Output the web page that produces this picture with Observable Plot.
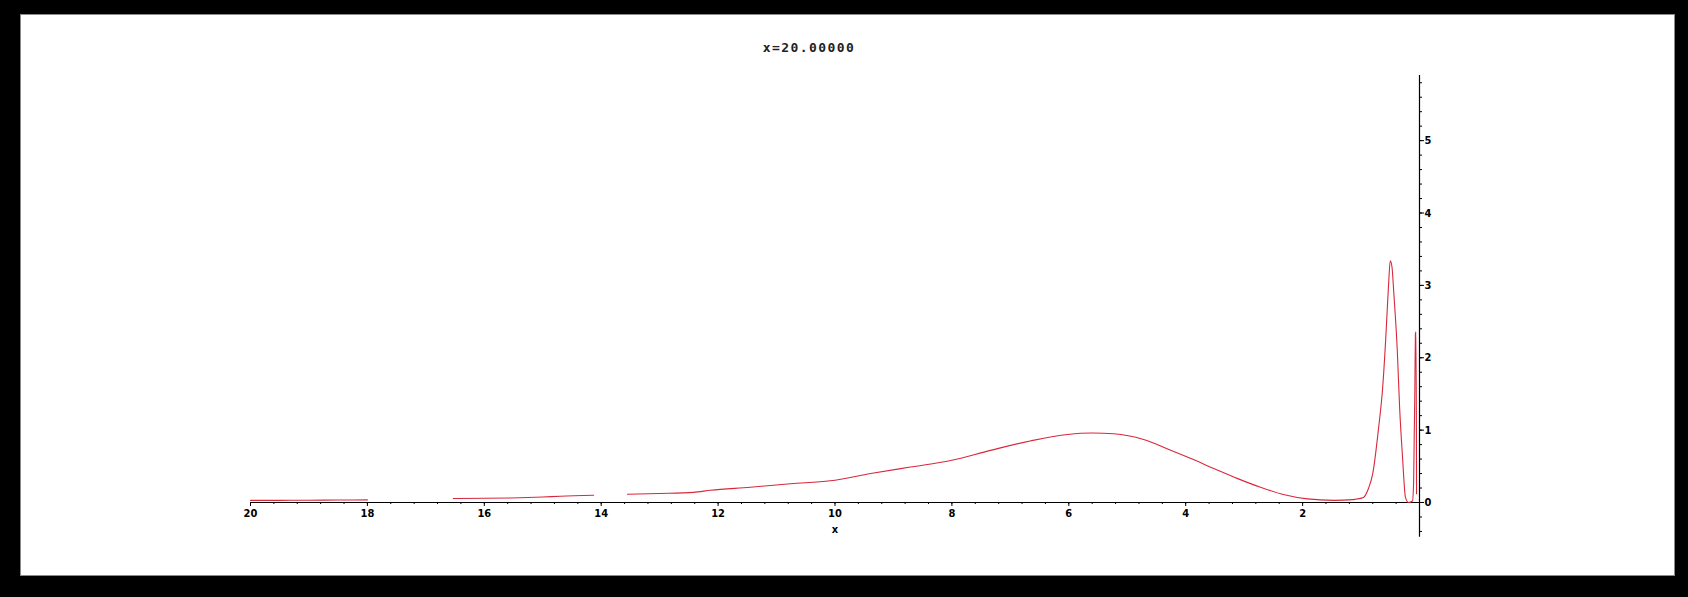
<!DOCTYPE html>
<html>
<head>
<meta charset="utf-8">
<script src="https://cdn.jsdelivr.net/npm/d3@7"></script>
<script src="https://cdn.jsdelivr.net/npm/@observablehq/plot@0.6"></script>
<style>
  html, body { margin: 0; padding: 0; background: #000; width: 1688px; height: 597px; overflow: hidden; }
  #frame { position: absolute; left: 20px; top: 14px; width: 1655px; height: 562px; background: #fff; border: 1px solid #8a8a8a; box-sizing: border-box; }
  #title { position: absolute; left: 709px; width: 200px; top: 40px; text-align: center; font: bold 13px "DejaVu Sans Mono", monospace; letter-spacing: 1.4px; color: #222; }
  #chart { position: absolute; left: 0; top: 70px; }
</style>
</head>
<body>
<div id="frame"></div>
<div id="title">x=20.00000</div>
<div id="chart"></div>
<script>
// Curve samples (null = gap visible in the reference)
const curveX = [20, 19.5, 19, 18.5, 18, 17.3, 16.53, 16, 15.55, 15, 14.7, 14.13, 13.85, 13.55, 13, 12.42, 12.13, 11.45, 10.76, 10.08, 9.39, 8.71, 8.02, 7.34, 6.66, 6.02, 5.6, 5.23, 4.72, 4.31, 3.92, 3.52, 3.11, 2.72, 2.33, 1.92, 1.47, 1.13, 1.06, 0.96, 0.87, 0.80, 0.70, 0.63, 0.58, 0.53, 0.50, 0.47, 0.44, 0.38, 0.34, 0.29, 0.24, 0.19, 0.12, 0.10, 0.09, 0.08, 0.07, 0.06, 0.05];
const curveY = [0.03, 0.03, 0.032, 0.034, 0.036, null, 0.055, 0.058, 0.062, 0.075, 0.087, 0.1, null, 0.115, 0.125, 0.14, 0.17, 0.21, 0.26, 0.30, 0.40, 0.49, 0.58, 0.72, 0.85, 0.94, 0.96, 0.95, 0.87, 0.74, 0.61, 0.47, 0.33, 0.21, 0.11, 0.05, 0.03, 0.04, 0.05, 0.07, 0.2, 0.40, 1.03, 1.59, 2.23, 3.0, 3.34, 3.25, 2.9, 2.1, 1.31, 0.62, 0.07, 0.0, 0.02, 0.3, 0.95, 1.5, 2.33, 2.36, 0.12];

const xTickValues = [20, 18, 16, 14, 12, 10, 8, 6, 4, 2];
const xTickLabels = ["20", "18", "16", "14", "12", "10", "8", "6", "4", "2"];
const yTickValues = [0, 1, 2, 3, 4, 5];
const yTickLabels = ["0", "1", "2", "3", "4", "5"];
const titleText = "x=20.00000";
const xLabel = "x";

const curve = curveX.map((x, i) => ({x, y: curveY[i]})).sort((a, b) => a.x - b.x);
const xMinor = d3.range(0, 20.01, 0.4).map(v => +v.toFixed(2));
const yMinor = d3.range(-0.4, 5.81, 0.2).map(v => +v.toFixed(2));
const yAxisExtent = [-0.48, 5.9];

const tickFont = "DejaVu Sans Condensed, DejaVu Sans, sans-serif";

const chart = Plot.plot({
  width: 1688,
  height: 527,
  marginLeft: 250,
  marginRight: 269,
  marginTop: 5,
  marginBottom: 95,
  style: { background: "transparent", fontFamily: tickFont, fontSize: "11px", fontWeight: "bold", color: "#000" },
  x: { domain: [20, 0] },
  y: { domain: [0, 5.9] },
  marks: [
    Plot.ruleY([0], { stroke: "#000", strokeWidth: 1.2 }),
    Plot.ruleX([0], { y1: yAxisExtent[0], y2: yAxisExtent[1], stroke: "#000", strokeWidth: 1.2 }),
    Plot.axisX({ ticks: xMinor, tickSize: 2, tickFormat: () => "", label: null }),
    Plot.axisX({
      ticks: xTickValues, tickSize: 4, tickPadding: 3,
      tickFormat: d => xTickLabels[xTickValues.indexOf(d)],
      fontSize: 11, fontWeight: "bold",
      label: xLabel, labelAnchor: "center", labelOffset: 30, labelArrow: "none"
    }),
    Plot.axisY({ anchor: "right", ticks: yMinor, tickSize: 2, tickFormat: () => "", label: null }),
    Plot.axisY({
      anchor: "right", ticks: yTickValues, tickSize: 4, tickPadding: 1,
      tickFormat: d => yTickLabels[yTickValues.indexOf(d)],
      fontSize: 11, fontWeight: "bold", label: null
    }),
    Plot.line(curve, { x: "x", y: "y", stroke: "#d8283c", strokeWidth: 1.1, curve: "monotone-x" })
  ]
});
document.getElementById("chart").appendChild(chart);
document.getElementById("title").textContent = titleText;
</script>
</body>
</html>
